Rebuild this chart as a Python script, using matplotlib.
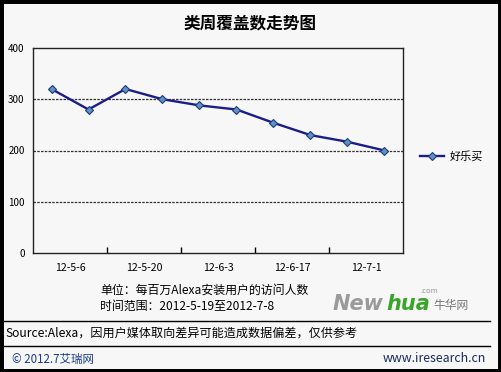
import matplotlib

matplotlib.use("Agg")

import matplotlib.pyplot as plt  # noqa: E402
from matplotlib.patches import Rectangle  # noqa: E402
from matplotlib.lines import Line2D  # noqa: E402

plt.rcParams["font.family"] = ["Noto Sans CJK SC", "DejaVu Sans"]

# Weekly coverage values, one per week
weeks = list(range(10))
coverage = [320, 280, 320, 300, 288, 280, 254, 230, 217, 200]
date_labels = ["12-5-6", "12-5-20", "12-6-3", "12-6-17", "12-7-1"]
yticks = [0, 100, 200, 300, 400]
series_name = "好乐买"

W, H = 501, 372
LINE_KW = dict(color="#1c1c8a", linewidth=1.7, marker="D", markersize=4.2,
               markerfacecolor="#5f8fc4", markeredgecolor="#1c3c7a", markeredgewidth=0.8)

fig = plt.figure(figsize=(W / 100, H / 100), dpi=100)
fig.patch.set_facecolor("#f7f7f7")

# outer black frame
fig.patches.append(Rectangle((0, 0), 1, 1, transform=fig.transFigure, fill=False,
                             edgecolor="black", linewidth=5))

ax = fig.add_axes([33 / W, 1 - 253 / H, 370 / W, 205 / H])
ax.set_facecolor("#f7f7f7")
ax.plot(weeks, coverage, **LINE_KW)
ax.set_xlim(-0.5, 9.5)
ax.set_ylim(0, 400)
ax.set_yticks(yticks)
ax.set_yticklabels([str(v) for v in yticks], fontsize=7)
ax.tick_params(axis="y", length=0, pad=6)
for v in yticks[1:-1]:
    ax.axhline(v, color="#333333", linestyle=(0, (2, 1)), linewidth=0.9, zorder=0)

# tick marks at category-pair boundaries, labels centred between pairs
ax.set_xticks([1.5, 3.5, 5.5, 7.5])
ax.set_xticklabels([])
ax.set_xticks([0.5 + 2 * i for i in range(len(date_labels))], minor=True)
ax.set_xticklabels(date_labels, minor=True, fontsize=7.6)
ax.tick_params(axis="x", which="major", direction="in", length=4, width=1)
ax.tick_params(axis="x", which="minor", length=0, pad=7)
for s in ax.spines.values():
    s.set_linewidth(1.0)
    s.set_color("#222222")

fig.text(0.5, 1 - 23 / H, "类周覆盖数走势图", ha="center", va="center", fontsize=12,
         fontweight="bold")

# legend
handle = Line2D([], [], **LINE_KW)
fig.legend([handle], [series_name], loc="center left", bbox_to_anchor=(410 / W, 1 - 156 / H),
           frameon=False, fontsize=8, handlelength=2.2, handletextpad=0.5)

fig.text(100 / W, 1 - 290 / H, "单位：每百万Alexa安装用户的访问人数", ha="left", va="center",
         fontsize=8.6)
fig.text(100 / W, 1 - 306 / H, "时间范围：2012-5-19至2012-7-8", ha="left", va="center",
         fontsize=8.6)

# watermark logo text
fig.text(333 / W, 1 - 304 / H, "New", ha="left", va="center", fontsize=15, color="#9a9a9a",
         fontweight="bold", style="italic", family="DejaVu Sans")
fig.text(386 / W, 1 - 304 / H, "hua", ha="left", va="center", fontsize=15, color="#3aa52a",
         fontweight="bold", style="italic", family="DejaVu Sans")
fig.text(433 / W, 1 - 306 / H, "牛华网", ha="left", va="center", fontsize=8.5, color="#777777")
fig.text(420 / W, 1 - 291 / H, ".com", ha="left", va="center", fontsize=5.5, color="#999999")

fig.add_artist(Line2D([3 / W, 490 / W], [1 - 321 / H, 1 - 321 / H], color="black", linewidth=1))
fig.add_artist(Line2D([3 / W, 490 / W], [1 - 346 / H, 1 - 346 / H], color="black", linewidth=1))
fig.text(5 / W, 1 - 333 / H, "Source:Alexa，因用户媒体取向差异可能造成数据偏差，仅供参考", ha="left",
         va="center", fontsize=8.7)
fig.text(12 / W, 1 - 359 / H, "© 2012.7艾瑞网", ha="left", va="center", fontsize=8.3,
         color="#1a3c8c")
fig.text(486 / W, 1 - 359 / H, "www.iresearch.cn", ha="right", va="center", fontsize=8.9,
         color="#1a2a5c")

fig.savefig("out.png", dpi=100, facecolor=fig.get_facecolor())
